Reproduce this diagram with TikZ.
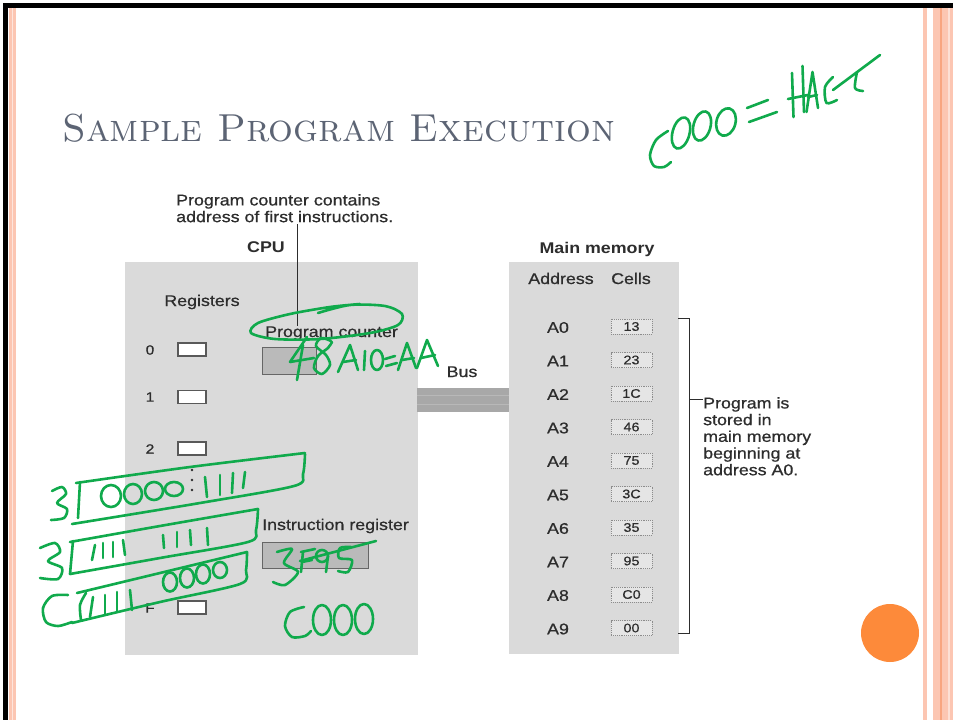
\documentclass[tikz,border=0pt]{standalone}
\usepackage{fontspec}
\newfontfamily\figfont[FakeStretch=1.15,FakeBold=0.7]{Liberation Sans}
\newfontfamily\figfontb[FakeStretch=1.15]{Liberation Sans Bold}
\definecolor{inkgreen}{RGB}{16,170,76}
\definecolor{titlegray}{RGB}{92,100,116}
\definecolor{panelgray}{RGB}{218,218,218}
\definecolor{figtext}{RGB}{45,45,45}
\definecolor{busgray}{RGB}{168,168,168}
\definecolor{pinkband}{RGB}{252,198,178}
\definecolor{pinkdark}{RGB}{248,165,128}
\definecolor{dotorange}{RGB}{253,138,58}
\begin{document}
\begin{tikzpicture}[x=1pt,y=-1pt,
  ink/.style={draw=inkgreen,line width=2.6pt,line cap=round,line join=round},
  lbl/.style={font=\figfont\fontsize{15.5}{16.7}\selectfont,text=figtext,inner sep=0pt},
  lblb/.style={font=\figfontb\fontsize{15.5}{16.7}\selectfont,text=figtext,inner sep=0pt},
  small/.style={font=\figfont\fontsize{13.5}{13.5}\selectfont,text=figtext,inner sep=0pt},
  panel/.style={fill=panelgray,draw=none,anchor=north west,inner sep=0pt},
  regbox/.style={draw=black!65,fill=white,line width=1.3pt,minimum width=28pt,minimum height=13pt,inner sep=0pt},
  grayreg/.style={draw=black!60,fill=black!27,line width=1.2pt,inner sep=0pt,anchor=north west},
  cellbox/.style={draw=black!45,densely dotted,line width=0.9pt,fill=black!10,minimum width=41pt,minimum height=15pt,inner sep=0pt,
                  font=\figfont\fontsize{12.5}{12.5}\selectfont,text=figtext},
  wire/.style={draw=figtext,line width=1pt}]
\useasboundingbox (0,0) rectangle (953,720);
\fill[white] (0,0) rectangle (953,720);

% slide frame and side bands
\fill[black] (3,3) rectangle (953,7.5);
\fill[black] (3,3) rectangle (7.5,720);
\fill[pinkband] (8.5,7.5) rectangle (16,720);
\fill[pinkband!45] (11.5,7.5) rectangle (13,720);
\fill[pinkband] (922.5,7.5) rectangle (927,720);
\fill[pinkband] (933,7.5) rectangle (953,720);
\fill[pinkdark] (939.5,7.5) rectangle (941.5,720);
\fill[pinkband!55] (948,7.5) rectangle (950,720);

% title
\node[anchor=base west,inner sep=0pt,text=titlegray,font=\fontsize{39}{39}\selectfont] (title) at (62,141) {\textsc{Sample Program Execution}};

% panels and bus
\node[panel,minimum width=293pt,minimum height=393pt] (cpu) at (125,262) {};
\node[panel,minimum width=170pt,minimum height=392pt] (mem) at (509,262) {};
\node[fill=busgray,inner sep=0pt,anchor=north west,minimum width=92pt,minimum height=24pt] (bus) at (417,388) {};
\draw[black!28,line width=0.8pt] (bus.west |- 0,395) -- (bus.east |- 0,395);
\draw[black!28,line width=0.8pt] (bus.west |- 0,404) -- (bus.east |- 0,404);
\node[lbl,anchor=base] (buslbl) at (462,377) {Bus};

% CPU
\node[lbl,anchor=north west,align=left] (note) at (176,194) {Program counter contains\\address of first instructions.};
\node[lblb,anchor=base] (cpulbl) at (266,252) {CPU};
\node[lbl,anchor=base] (reglbl) at (202,306) {Registers};
\node[small,anchor=center] (n0) at (150,350) {0};
\node[regbox] (r0) at (192,349.5) {};
\node[small,anchor=center] (n1) at (150,397) {1};
\node[regbox] (r1) at (192,397) {};
\node[small,anchor=center] (n2) at (150,449) {2};
\node[regbox] (r2) at (192,448.5) {};
\foreach \yy [count=\k] in {470,480,490} \fill[figtext] (192,\yy) circle (1.3pt) coordinate (dot\k);
\node[small,anchor=center] (nF) at (150,608) {F};
\node[regbox] (rF) at (192,607.5) {};
\node[lbl,anchor=base west] (pclbl) at (265,337) {Program counter};
\node[grayreg,minimum width=54pt,minimum height=27pt] (pc) at (262,347) {};
\node[lbl,anchor=base west] (irlbl) at (262,530) {Instruction register};
\node[grayreg,minimum width=106pt,minimum height=26pt] (ir) at (262,542) {};
\coordinate (pcx) at (297,0);
\draw[wire] (note.south -| pcx) ++(0,2) -- (pclbl.north -| pcx);

% main memory
\node[lblb,anchor=base] (memlbl) at (597,253) {Main memory};
\node[lbl,anchor=base] (addrlbl) at (561,284) {Address};
\node[lbl,anchor=base] (celllbl) at (631,284) {Cells};
\foreach \a/\v [count=\i from 0] in {A0/13,A1/23,A2/1C,A3/46,A4/75,A5/3C,A6/35,A7/95,A8/C0,A9/00}{
  \node[lbl,anchor=center] (addr\i) at (558,{327.5+33.5*\i}) {\a};
  \node[cellbox] (cell\i) at (631.5,{326.5+33.5*\i}) {\v};
}
\coordinate (btop) at (678,318);
\coordinate (bbot) at (678,633);
\coordinate (bmid) at (689,399);
\draw[wire] (btop) -- (btop -| bmid) -- (bbot -| bmid) -- (bbot);
\node[lbl,anchor=north west,align=left] (prog) at (703,397) {Program is\\stored in\\main memory\\beginning at\\address A0.};
\draw[wire] (bmid) -- (prog.west |- bmid);

% orange dot
\fill[dotorange] (890,633) circle (29pt);

% ---- green pen annotations ----
% C000 = HALT
\draw[ink] plot[smooth] coordinates {(668,131) (656,140) (650,155) (654,166) (664,167) (671,162)};
\draw[ink,rotate around={-15:(681,133)}] (681,133) ellipse (8.5pt and 16pt);
\draw[ink,rotate around={-15:(702,126)}] (702,126) ellipse (8.5pt and 15pt);
\draw[ink,rotate around={-15:(726,122)}] (726,122) ellipse (9.5pt and 14pt);
\draw[ink] (747,108) -- (768,100);
\draw[ink] (749,122) -- (777,112);
\draw[ink] (792,73) -- (793.5,117);
\draw[ink] (802.5,66) -- (804,112);
\draw[ink] (788,99) -- (808,95);
\draw[ink] (806.5,112) -- (812.5,72) -- (818,108);
\draw[ink] (808,97) -- (817,95);
\draw[ink] plot[smooth] coordinates {(833,77) (825,87) (826.5,103) (837,100)};
\draw[ink] plot[smooth] coordinates {(857,72) (855,88) (863,91)};
\draw[ink] (833,90) -- (880,55);

% loop round the program counter label
\draw[ink] plot[smooth] coordinates {(318,313) (350,305) (385,306) (402,314) (398,325) (370,333) (320,339) (275,339) (251,333) (258,323) (290,314) (330,307) (360,304)};

% 48 A10=AA
\draw[ink] (307,337) -- (290,362) -- (314,358);
\draw[ink] (303,345) -- (297,380);
\draw[ink] plot[smooth] coordinates {(331,341) (321,338) (316,346) (326,355) (330,365) (322,374) (314,368) (318,356) (328,348) (332,342)};
\draw[ink] (338,372) -- (350,345) -- (358,370);
\draw[ink] (343,362) -- (356,360);
\draw[ink] (365,351) -- (364,370);
\draw[ink] (377,360) ellipse (6pt and 10pt);
\draw[ink] (385,359) -- (395,356);
\draw[ink] (386,366) -- (397,363);
\draw[ink] (398,370) -- (407,343) -- (416,368);
\draw[ink] (402,360) -- (414,358);
\draw[ink] (417,368) -- (427,340) -- (438,366);
\draw[ink] (421,358) -- (435,355);

% 3 [0000:1111]
\draw[ink] plot[smooth] coordinates {(52,491) (62,487) (66,494) (57,503) (67,509) (64,518) (51,520)};
\draw[ink] (80,482) -- (78,518);
\draw[ink] plot[smooth] coordinates {(76,483) (190,467) (305,453)};
\draw[ink] plot[smooth] coordinates {(305,454) (303,474) (294,486) (200,503) (72,524)};
\draw[ink] (111,496) ellipse (10pt and 11pt);
\draw[ink] (133,494) ellipse (9pt and 10pt);
\draw[ink] (154,491) ellipse (9pt and 9pt);
\draw[ink] (174,489) ellipse (9pt and 7pt);
\draw[ink] (205,477) -- (207,497);
\draw[ink] (220,475) -- (220,495);
\draw[ink] (233,473) -- (232,493);
\draw[ink] (245,472) -- (243,488);

% 3 [1111 1111]
\draw[ink] plot[smooth] coordinates {(40,548) (55,543) (60,552) (48,561) (62,568) (58,579) (40,578)};
\draw[ink] (73,541) -- (70,574);
\draw[ink] plot[smooth] coordinates {(70,542) (160,526) (258,509)};
\draw[ink] plot[smooth] coordinates {(258,509) (256,530) (248,542) (160,558) (70,574)};
\draw[ink] (95,545) -- (92,560);
\draw[ink] (103,543) -- (103,558);
\draw[ink] (113,542) -- (113,557);
\draw[ink] (123,540) -- (125,555);
\draw[ink] (163,535) -- (164,548);
\draw[ink] (177,532) -- (177,547);
\draw[ink] (190,530) -- (191,545);
\draw[ink] (207,528) -- (208,545);

% C (1111 0000)
\draw[ink] plot[smooth] coordinates {(68,595) (52,596) (43,608) (46,622) (58,626) (72,622)};
\draw[ink] plot[smooth] coordinates {(86,593) (80,605) (81,620)};
\draw[ink] plot[smooth] coordinates {(77,593) (160,573) (247,552)};
\draw[ink] plot[smooth] coordinates {(247,552) (246,570) (240,584) (160,602) (72,623)};
\draw[ink] (93,597) -- (90,617);
\draw[ink] (105,595) -- (105,615);
\draw[ink] (117,592) -- (117,612);
\draw[ink] (130,590) -- (132,610);
\draw[ink] (170,582) ellipse (7pt and 9.5pt);
\draw[ink] (187,578) ellipse (7pt and 9.5pt);
\draw[ink] (203,574) ellipse (7pt and 9.5pt);
\draw[ink] (220,570) ellipse (7pt and 8pt);

% 3F95 struck out, then C000
\draw[ink] plot[smooth] coordinates {(277,552) (292,549) (284,563) (298,572) (285,585) (273,582)};
\draw[ink] (303,552) -- (301,572);
\draw[ink] (301,552) -- (315,549);
\draw[ink] (302,562) -- (312,560);
\draw[ink] (322,556) circle (6pt);
\draw[ink] (328,556) -- (326,572);
\draw[ink] plot[smooth] coordinates {(351,547) (340,548) (339,558) (352,560) (348,572) (338,571)};
\draw[ink] (300,561) -- (376,541);
\draw[ink] plot[smooth] coordinates {(304,607) (290,612) (285,626) (292,637) (305,636) (311,631)};
\draw[ink] (322,620) ellipse (9pt and 15pt);
\draw[ink] (343,620) ellipse (9pt and 15pt);
\draw[ink] (364,619) ellipse (9pt and 15pt);
\end{tikzpicture}
\end{document}
